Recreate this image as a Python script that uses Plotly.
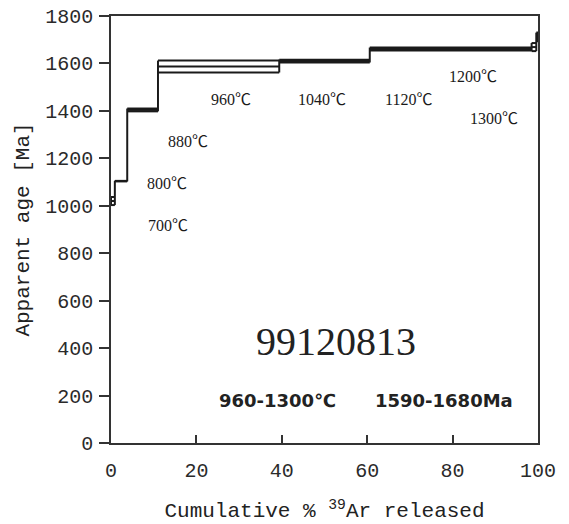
import plotly.graph_objects as go

# Heating steps (°C)
temps = [700, 800, 880, 960, 1040, 1120, 1200, 1300]
# Cumulative % 39Ar boundaries of the steps
cum_pct = [0, 0.9, 3.8, 11.0, 39.4, 60.6, 98.5, 99.6, 100]
# Apparent ages (Ma) and half-widths of the boxes (Ma)
ages = [1020, 1104, 1404, 1587, 1610, 1661, 1669, 1712]
errs = [17, 1, 6, 25, 6, 6, 17, 18]

# Label positions for the temperature steps (x in %, y in Ma)
label_x = [13.4, 13.2, 18.1, 28.1, 49.4, 69.6, 84.8, 89.7]
label_y = [915, 1095, 1272, 1448, 1448, 1448, 1545, 1366]

sample_id = "99120813"
plateau_temp = "960-1300℃"
plateau_age = "1590-1680Ma"

xs, ys = [], []
n = len(ages)
for i in range(n):
    for a in (ages[i] - errs[i], ages[i], ages[i] + errs[i]):
        xs += [cum_pct[i], cum_pct[i + 1], None]
        ys += [a, a, None]
for j in range(n + 1):
    neigh = [k for k in (j - 1, j) if 0 <= k < n]
    lo = min(ages[k] - errs[k] for k in neigh)
    hi = max(ages[k] + errs[k] for k in neigh)
    xs += [cum_pct[j], cum_pct[j], None]
    ys += [lo, hi, None]

fig = go.Figure()
fig.add_trace(go.Scatter(x=xs, y=ys, mode="lines",
                         line=dict(color="#1a1a1a", width=2),
                         hoverinfo="skip", showlegend=False))

mono = "Liberation Mono, Noto Sans CJK SC"
serif = "Liberation Serif, Noto Sans CJK SC"

for t, x, y in zip(temps, label_x, label_y):
    fig.add_annotation(x=x, y=y, text=f"{t}℃", showarrow=False,
                       font=dict(family=serif, size=16, color="#1a1a1a"))

fig.add_annotation(x=52.7, y=426, text=sample_id, showarrow=False,
                   font=dict(family=serif, size=40, color="#222222"))
fig.add_annotation(x=38.9, y=181, text=plateau_temp, showarrow=False,
                   font=dict(family="DejaVu Sans, Noto Sans CJK SC", size=18,
                             color="#222222", weight="bold"))
fig.add_annotation(x=78.0, y=181, text=plateau_age, showarrow=False,
                   font=dict(family="DejaVu Sans, Noto Sans CJK SC", size=18,
                             color="#222222", weight="bold"))

fig.update_layout(
    width=569, height=524,
    margin=dict(l=111, r=31, t=16, b=81, autoexpand=False),
    paper_bgcolor="white", plot_bgcolor="white",
    xaxis=dict(range=[0, 100], tickvals=[0, 20, 40, 60, 80, 100],
               ticks="inside", ticklen=8, tickwidth=1.5, tickcolor="#333333",
               showline=True, linecolor="#333333", linewidth=1.5, mirror=True,
               showgrid=False, zeroline=False, automargin=False,
               ticklabelstandoff=8,
               tickfont=dict(family=mono, size=20, color="#2a2a2a"),
               title=dict(text="Cumulative % <sup>39</sup>Ar released",
                          font=dict(family=mono, size=21, color="#222222"),
                          standoff=21)),
    yaxis=dict(range=[0, 1800], tickvals=list(range(0, 1801, 200)),
               ticks="outside", ticklen=10, tickwidth=1.5, tickcolor="#333333",
               showline=True, linecolor="#333333", linewidth=1.5, mirror=True,
               showgrid=False, zeroline=False, automargin=False,
               ticklabelstandoff=2,
               tickfont=dict(family=mono, size=20, color="#2a2a2a"),
               title=dict(text="Apparent age [Ma]",
                          font=dict(family=mono, size=21, color="#222222"),
                          standoff=10)),
)

# remove the browser's default page margin so the figure sits at (0, 0)
fig.write_html("out.html", config={"displayModeBar": False},
               post_script="document.body.style.margin='0';")
